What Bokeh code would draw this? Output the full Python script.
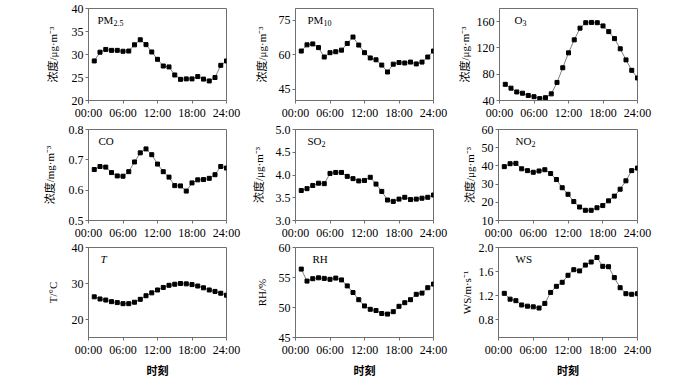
from bokeh.plotting import figure
from bokeh.layouts import column, row
from bokeh.models import FixedTicker, Range1d, Label
from bokeh.embed import file_html
from bokeh.resources import INLINE

hours = list(range(1, 25))
x_ticks = [0, 6, 12, 18, 24]
x_tick_labels = ["00:00", "06:00", "12:00", "18:00", "24:00"]

pm25 = [28.6, 30.5, 31.1, 30.9, 30.9, 30.7, 30.75, 32.1, 33.2, 32.15, 30.55, 28.95,
        27.5, 27.3, 25.55, 24.6, 24.7, 24.7, 25.2, 24.65, 24.25, 25.0, 27.65, 28.6]
pm10 = [61.5, 64.2, 64.6, 63.0, 58.9, 60.8, 61.2, 61.9, 64.8, 67.6, 64.1, 60.8,
        58.5, 57.7, 55.4, 52.4, 55.8, 56.5, 56.3, 56.7, 55.9, 56.7, 58.9, 61.5]
o3 = [64.6, 58.8, 53.0, 51.1, 47.7, 45.8, 42.9, 44.3, 50.1, 67.5, 89.8, 112.5,
      132.3, 150.1, 158.4, 158.8, 158.4, 153.5, 144.8, 134.2, 118.7, 101.8, 85.9, 74.3]
co = [0.668, 0.678, 0.676, 0.658, 0.647, 0.646, 0.661, 0.693, 0.723, 0.736, 0.717, 0.686,
      0.661, 0.643, 0.615, 0.614, 0.597, 0.624, 0.634, 0.635, 0.639, 0.651, 0.678, 0.673]
so2 = [3.66, 3.70, 3.77, 3.82, 3.81, 4.035, 4.056, 4.056, 3.97, 3.92, 3.87, 3.88,
       3.95, 3.80, 3.64, 3.45, 3.42, 3.47, 3.51, 3.46, 3.47, 3.49, 3.51, 3.56]
no2 = [39.6, 41.2, 41.4, 38.4, 37.4, 36.5, 37.2, 37.9, 35.8, 32.5, 28.0, 24.4,
       20.4, 17.4, 15.6, 15.6, 17.0, 18.2, 20.8, 23.4, 27.2, 31.8, 37.4, 38.8]
temp = [26.3, 25.7, 25.4, 24.96, 24.7, 24.4, 24.4, 24.8, 25.6, 26.6, 27.4, 28.2,
        28.9, 29.5, 29.8, 30.0, 29.9, 29.7, 29.3, 28.8, 28.2, 27.8, 27.3, 26.75]
rh = [56.4, 54.4, 54.8, 54.95, 54.85, 54.7, 54.9, 54.6, 53.6, 52.5, 51.3, 50.26,
      49.7, 49.5, 49.0, 48.9, 49.3, 50.2, 50.8, 51.3, 52.2, 52.4, 53.3, 53.9]
ws = [1.236, 1.139, 1.114, 1.042, 1.022, 1.011, 0.991, 1.068, 1.251, 1.353, 1.42, 1.537,
      1.63, 1.61, 1.707, 1.758, 1.834, 1.686, 1.68, 1.498, 1.33, 1.23, 1.22, 1.23]

# panel specs: (values, ymin, ymax, yticks, ytick labels, y axis label, title, subscript)
panels = [
    (pm25, 20, 40, [20, 25, 30, 35, 40], ["20", "25", "30", "35", "40"], "浓度/μg·m⁻³", "PM", "2.5"),
    (pm10, 40, 80, [45, 60, 75], ["45", "60", "75"], "浓度/μg·m⁻³", "PM", "10"),
    (o3, 40, 180, [40, 80, 120, 160], ["40", "80", "120", "160"], "浓度/μg·m⁻³", "O", "3"),
    (co, 0.5, 0.8, [0.5, 0.6, 0.7, 0.8], ["0.5", "0.6", "0.7", "0.8"], "浓度/mg·m⁻³", "CO", ""),
    (so2, 3.0, 5.0, [3.0, 3.5, 4.0, 4.5, 5.0], ["3.0", "3.5", "4.0", "4.5", "5.0"], "浓度/μg·m⁻³", "SO", "2"),
    (no2, 10, 60, [10, 20, 30, 40, 50, 60], ["10", "20", "30", "40", "50", "60"], "浓度/μg·m⁻³", "NO", "2"),
    (temp, 15, 40, [20, 30, 40], ["20", "30", "40"], "T/°C", "T", ""),
    (rh, 45, 60, [45, 50, 55, 60], ["45", "50", "55", "60"], "RH/%", "RH", ""),
    (ws, 0.5, 2.0, [0.8, 1.2, 1.6, 2.0], ["0.8", "1.2", "1.6", "2.0"], "WS/m·s⁻¹", "WS", ""),
]

FONT = "Liberation Serif, Noto Sans CJK SC"
GRAY = "#6f6f6f"

col_left = [88, 50, 43]
col_frame = [138, 138, 139]
col_right = [19, 22, 20]
col_label_standoff = [10, 8, 3]
row_top = [8, 7, 5]
row_frame = [97, 97, 96]
row_bottom = [17, 16, 36]
title_dx = [9, 12, 15, 10, 12, 17, 12, 17, 17]
main_w = {"PM": 15.9, "O": 7.9, "SO": 14.1, "NO": 15.9}

figs = []
for i, (vals, y0, y1, yt, ytl, ylab, ttl, sub) in enumerate(panels):
    r, c = divmod(i, 3)
    w = col_left[c] + col_frame[c] + col_right[c]
    h = row_top[r] + row_frame[r] + row_bottom[r]
    p = figure(width=w, height=h, output_backend="svg", toolbar_location=None,
               x_range=Range1d(0, 24), y_range=Range1d(y0, y1),
               min_border_left=col_left[c], min_border_right=col_right[c],
               min_border_top=row_top[r], min_border_bottom=row_bottom[r])
    p.xgrid.visible = False
    p.ygrid.visible = False
    p.outline_line_color = GRAY
    p.outline_line_width = 1
    p.background_fill_color = "white"
    p.border_fill_color = "white"

    p.xaxis.ticker = FixedTicker(ticks=x_ticks)
    p.xaxis.major_label_overrides = {t: l for t, l in zip(x_ticks, x_tick_labels)}
    p.yaxis.ticker = FixedTicker(ticks=yt)
    p.yaxis.major_label_overrides = {t: l for t, l in zip(yt, ytl)}
    for ax in (p.xaxis[0], p.yaxis[0]):
        ax.axis_line_color = GRAY
        ax.major_tick_line_color = GRAY
        ax.major_tick_in = 0
        ax.major_tick_out = 3
        ax.minor_tick_line_color = None
        ax.major_label_text_font = FONT
        ax.major_label_text_font_size = "12px"
        ax.major_label_text_color = "black"
        ax.major_label_standoff = 2
    p.yaxis.axis_label = ylab
    p.yaxis.axis_label_text_font = FONT
    p.yaxis.axis_label_text_font_size = "11px"
    p.yaxis.axis_label_text_font_style = "normal"
    p.yaxis.axis_label_text_color = "black"
    p.yaxis.axis_label_standoff = col_label_standoff[c]
    if r == 2:
        p.xaxis.axis_label = "时刻"
        p.xaxis.axis_label_text_font = FONT
        p.xaxis.axis_label_text_font_size = "11px"
        p.xaxis.axis_label_text_font_style = "bold"
        p.xaxis.axis_label_text_color = "black"
        p.xaxis.axis_label_standoff = 5

    p.line(hours, vals, line_color="#808080", line_width=1)
    p.scatter(hours, vals, marker="square", size=4, fill_color="black", line_color="black")

    p.add_layout(Label(x=0, y=y1, x_offset=title_dx[i], y_offset=-11, text=ttl,
                       text_font=FONT, text_font_size="11px", text_baseline="middle",
                       text_color="black",
                       text_font_style="italic" if ttl == "T" else "normal"))
    if sub:
        p.add_layout(Label(x=0, y=y1, x_offset=title_dx[i] + main_w[ttl], y_offset=-14,
                           text=sub, text_font=FONT, text_font_size="8px",
                           text_baseline="middle", text_color="black"))
    figs.append(p)

layout = column(row(*figs[0:3]), row(*figs[3:6]), row(*figs[6:9]))
open("out.html", "w").write(file_html(layout, INLINE))
